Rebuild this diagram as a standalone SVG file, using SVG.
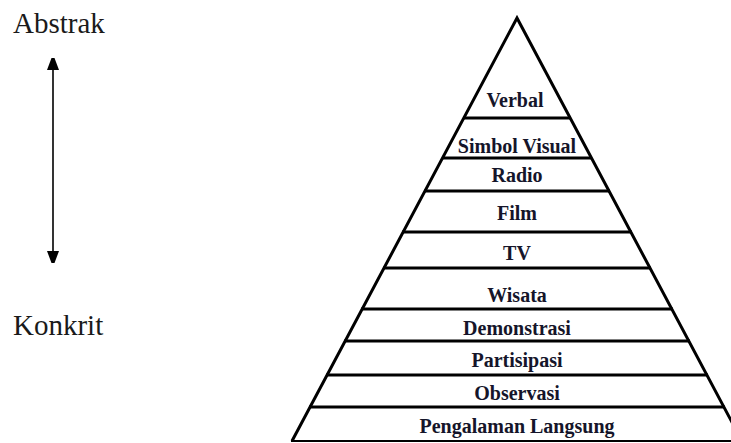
<svg xmlns="http://www.w3.org/2000/svg" width="731" height="443" viewBox="0 0 731 443">
  <defs>
    <style>
      .edge { fill: none; stroke: #000; stroke-width: 3; stroke-linejoin: miter; }
      .div { stroke: #000; stroke-width: 3; }
      .lbl { font-family: "Liberation Serif", "Times New Roman", serif; font-weight: bold; font-size: 20px; fill: #15152a; text-anchor: middle; }
      .side { font-family: "Liberation Serif", "Times New Roman", serif; font-size: 29px; fill: #1a1a1a; }
    </style>
    <marker id="ah" viewBox="0 0 12 16" refX="12" refY="6" markerWidth="12" markerHeight="16" markerUnits="userSpaceOnUse" orient="auto">
      <path d="M0,0 L16,6 L0,12 Z" fill="#000"/>
    </marker>
  </defs>
  <rect width="731" height="443" fill="#fff"/>

  <g id="connectors">
    <line x1="53" y1="160" x2="53" y2="58" stroke="#000" stroke-width="1.6" marker-end="url(#ah)"/>
    <line x1="53" y1="160" x2="53" y2="263" stroke="#000" stroke-width="1.6" marker-end="url(#ah)"/>
  </g>

  <g id="pyramid">
    <polyline class="edge" points="292,441 517,18 742,441"/>
    <line class="div" x1="463" y1="118" x2="571" y2="118"/>
    <line class="div" x1="442" y1="158" x2="592" y2="158"/>
    <line class="div" x1="424" y1="191" x2="610" y2="191"/>
    <line class="div" x1="402" y1="232" x2="632" y2="232"/>
    <line class="div" x1="383" y1="268" x2="651" y2="268"/>
    <line class="div" x1="361" y1="309" x2="673" y2="309"/>
    <line class="div" x1="344" y1="341" x2="690" y2="341"/>
    <line class="div" x1="326" y1="375" x2="708" y2="375"/>
    <line class="div" x1="309" y1="407" x2="725" y2="407"/>
    <line x1="291" y1="441" x2="731" y2="441" stroke="#000" stroke-width="2"/>
  </g>

  <g id="abstrak"><text class="side" x="13" y="33">Abstrak</text></g>
  <g id="konkrit"><text class="side" x="13" y="335">Konkrit</text></g>

  <g id="verbal"><text class="lbl" x="515" y="107">Verbal</text></g>
  <g id="simbol-visual"><text class="lbl" x="517" y="153">Simbol Visual</text></g>
  <g id="radio"><text class="lbl" x="517" y="182">Radio</text></g>
  <g id="film"><text class="lbl" x="517" y="220">Film</text></g>
  <g id="tv"><text class="lbl" x="517" y="260">TV</text></g>
  <g id="wisata"><text class="lbl" x="517" y="302">Wisata</text></g>
  <g id="demonstrasi"><text class="lbl" x="517" y="335">Demonstrasi</text></g>
  <g id="partisipasi"><text class="lbl" x="517" y="367">Partisipasi</text></g>
  <g id="observasi"><text class="lbl" x="517" y="400">Observasi</text></g>
  <g id="pengalaman-langsung"><text class="lbl" x="517" y="433">Pengalaman Langsung</text></g>
</svg>
